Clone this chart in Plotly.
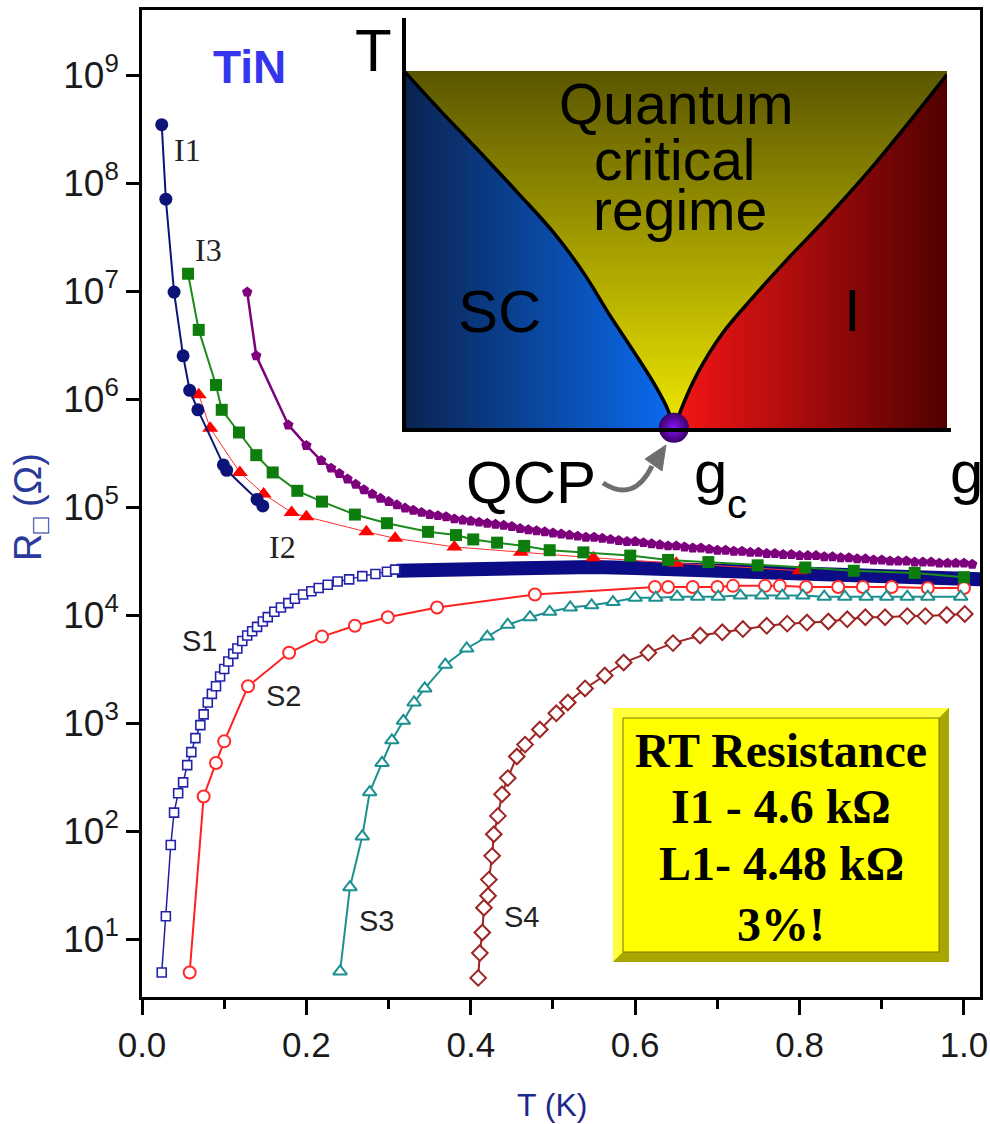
import numpy as np
import plotly.graph_objects as go

# ---------------- data: temperature T (K) and log10 of sheet resistance (Ohm) ----------------
I1_T = [0.024, 0.029, 0.039, 0.050, 0.058, 0.068, 0.099, 0.103, 0.140, 0.147]
I1_logR = [8.54, 7.85, 6.99, 6.40, 6.08, 5.90, 5.39, 5.34, 5.07, 5.01]

I3_T = [0.056, 0.069, 0.090, 0.097, 0.118, 0.139, 0.159, 0.189, 0.219, 0.259, 0.298, 0.348, 0.382,
        0.403, 0.432, 0.465, 0.496, 0.537, 0.594, 0.640, 0.689, 0.749, 0.807, 0.866, 0.940, 1.000]
I3_logR = [7.16, 6.64, 6.13, 5.90, 5.69, 5.48, 5.32, 5.15, 5.05, 4.93, 4.85, 4.77, 4.74,
           4.70, 4.67, 4.64, 4.60, 4.58, 4.55, 4.51, 4.49, 4.46, 4.44, 4.41, 4.39, 4.35]

I2_T = [0.069, 0.083, 0.119, 0.148, 0.182, 0.200, 0.273, 0.308, 0.380, 0.461, 0.549, 0.650, 0.800]
I2_logR = [6.04, 5.73, 5.32, 5.12, 4.95, 4.91, 4.77, 4.71, 4.63, 4.58, 4.53, 4.48, 4.41]

I4_T = [0.128, 0.139, 0.178, 0.200, 0.218,
        0.23, 0.24, 0.25, 0.26, 0.27, 0.28, 0.29, 0.30, 0.31, 0.32,
        0.33, 0.34, 0.35, 0.36, 0.37, 0.38, 0.39, 0.40, 0.41, 0.42,
        0.43, 0.44, 0.45, 0.46, 0.47, 0.48, 0.49, 0.50, 0.51, 0.52,
        0.53, 0.54, 0.55, 0.56, 0.57, 0.58, 0.59, 0.60, 0.61, 0.62,
        0.63, 0.64, 0.65, 0.66, 0.67, 0.68, 0.69, 0.70, 0.71, 0.72,
        0.73, 0.74, 0.75, 0.76, 0.77, 0.78, 0.79, 0.80, 0.81, 0.82,
        0.83, 0.84, 0.85, 0.86, 0.87, 0.88, 0.89, 0.90, 0.91, 0.92,
        0.93, 0.94, 0.95, 0.96, 0.97, 0.98, 0.99, 1.00, 1.01]
I4_logR = [6.99, 6.40, 5.76, 5.57, 5.43,
           5.36, 5.31, 5.26, 5.21, 5.16, 5.12, 5.08, 5.05, 5.02, 4.99,
           4.97, 4.95, 4.93, 4.92, 4.91, 4.89, 4.88, 4.87, 4.86, 4.85,
           4.84, 4.83, 4.82, 4.80, 4.79, 4.78, 4.77, 4.76, 4.75, 4.74,
           4.73, 4.72, 4.72, 4.71, 4.70, 4.69, 4.68, 4.68, 4.67, 4.66,
           4.65, 4.64, 4.64, 4.63, 4.62, 4.62, 4.61, 4.60, 4.60, 4.59,
           4.59, 4.58, 4.58, 4.57, 4.57, 4.56, 4.56, 4.55, 4.55, 4.55,
           4.54, 4.54, 4.53, 4.53, 4.52, 4.52, 4.51, 4.51, 4.50, 4.50,
           4.50, 4.49, 4.49, 4.49, 4.48, 4.48, 4.48, 4.48, 4.47]

S1_T = [0.024, 0.029, 0.035, 0.039, 0.044, 0.050, 0.055, 0.060, 0.065, 0.071, 0.075, 0.080, 0.085,
        0.090, 0.095, 0.100, 0.105, 0.111, 0.116, 0.122, 0.128, 0.134, 0.140, 0.147, 0.153, 0.161,
        0.169, 0.178, 0.186, 0.196, 0.206, 0.215, 0.226, 0.238, 0.252, 0.268, 0.284, 0.298, 0.308]
S1_logR = [0.69, 1.21, 1.87, 2.17, 2.35, 2.45, 2.61, 2.73, 2.86, 2.98, 3.08, 3.19, 3.27,
           3.34, 3.43, 3.50, 3.57, 3.64, 3.69, 3.76, 3.81, 3.85, 3.89, 3.94, 3.98, 4.03,
           4.07, 4.11, 4.15, 4.19, 4.22, 4.25, 4.28, 4.31, 4.33, 4.36, 4.38, 4.40, 4.42]
# densely sampled part of S1 (markers merge into a solid band)
S1_dense_T = [0.31, 0.35, 0.40, 0.45, 0.50, 0.55, 0.60, 0.65, 0.70, 0.75, 0.80, 0.85, 0.90, 0.95, 1.00, 1.02]
S1_dense_logR = [4.41, 4.42, 4.43, 4.44, 4.45, 4.445, 4.435, 4.42, 4.41, 4.395, 4.38, 4.37, 4.355, 4.345, 4.335, 4.33]

S2_T = [0.058, 0.075, 0.090, 0.100, 0.129, 0.179, 0.219, 0.259, 0.299, 0.359, 0.478, 0.624,
        0.640, 0.670, 0.700, 0.719, 0.758, 0.776, 0.808, 0.847, 0.877, 0.912, 0.956, 1.000]
S2_logR = [0.69, 2.32, 2.63, 2.83, 3.34, 3.65, 3.80, 3.90, 3.98, 4.07, 4.19, 4.26,
           4.26, 4.26, 4.26, 4.27, 4.27, 4.27, 4.26, 4.26, 4.26, 4.26, 4.25, 4.25]

S3_T = [0.241, 0.253, 0.268, 0.277, 0.292, 0.304, 0.318, 0.331, 0.344, 0.369, 0.395, 0.420, 0.445,
        0.472, 0.496, 0.521, 0.547, 0.573, 0.600, 0.625, 0.651, 0.676, 0.701, 0.728, 0.754, 0.779,
        0.804, 0.830, 0.855, 0.881, 0.906, 0.931, 0.956, 0.996]
S3_logR = [0.70, 1.48, 1.95, 2.36, 2.63, 2.84, 3.02, 3.19, 3.32, 3.54, 3.69, 3.80, 3.91,
           3.98, 4.03, 4.07, 4.09, 4.12, 4.16, 4.16, 4.17, 4.17, 4.17, 4.18, 4.18, 4.18,
           4.18, 4.17, 4.17, 4.17, 4.17, 4.17, 4.17, 4.17]

S4_T = [0.409, 0.411, 0.414, 0.416, 0.421, 0.422, 0.426, 0.428, 0.433, 0.438, 0.445, 0.456, 0.466,
        0.484, 0.504, 0.518, 0.539, 0.563, 0.586, 0.616, 0.646, 0.679, 0.706, 0.731, 0.760, 0.785,
        0.809, 0.835, 0.858, 0.880, 0.904, 0.931, 0.953, 0.979, 1.001]
S4_logR = [0.64, 0.87, 1.06, 1.29, 1.40, 1.55, 1.77, 1.97, 2.14, 2.34, 2.49, 2.69, 2.80,
           2.94, 3.09, 3.19, 3.32, 3.44, 3.56, 3.65, 3.74, 3.81, 3.84, 3.87, 3.90, 3.92,
           3.93, 3.94, 3.96, 3.98, 3.98, 3.99, 3.99, 4.00, 4.01]

y_tick_exp = [1, 2, 3, 4, 5, 6, 7, 8, 9]
y_tick_text = ["10<sup>%d</sup>" % e for e in y_tick_exp]

curve_labels = ["I1", "I3", "I2", "S1", "S2", "S3", "S4"]
box_lines = ["RT Resistance", "I1 - 4.6 kΩ", "L1- 4.48 kΩ", "3%!"]

# phase-diagram inset boundaries (normalised g, T)
left_bnd_u = [0.0, 0.066, 0.136, 0.210, 0.276, 0.331, 0.381, 0.425, 0.464, 0.486, 0.497]
left_bnd_v = [1.0, 0.891, 0.780, 0.660, 0.549, 0.437, 0.315, 0.214, 0.120, 0.056, 0.0]
right_bnd_u = [0.497, 0.510, 0.541, 0.587, 0.643, 0.705, 0.775, 0.853, 0.923, 1.0]
right_bnd_v = [0.0, 0.056, 0.159, 0.270, 0.370, 0.474, 0.585, 0.716, 0.844, 0.99]


def R(logs):
    return [10 ** v for v in logs]


# ---------------- geometry helpers (pixel -> paper) ----------------
W, H = 990, 1124
ML, MR, MT, MB = 142, 10, 10, 127
PW, PH = W - ML - MR, H - MT - MB


def px(x):
    return (x - ML) / PW


def py(y):
    return (H - MB - y) / PH


def P(x, y):
    return "%.5f,%.5f" % (px(x), py(y))


SANS = "Liberation Sans, Arial, sans-serif"
SERIF = "Liberation Serif, Times New Roman, serif"

fig = go.Figure()

# ---------------- main data traces ----------------
fig.add_trace(go.Scatter(x=S1_dense_T, y=R(S1_dense_logR), mode="lines",
                         line=dict(color="#0c0c86", width=14), hoverinfo="skip"))
fig.add_trace(go.Scatter(x=S1_T, y=R(S1_logR), mode="lines+markers",
                         line=dict(color="#1f1fa0", width=1.5),
                         marker=dict(symbol="square", size=9, color="white",
                                     line=dict(color="#2323aa", width=1.6))))
fig.add_trace(go.Scatter(x=S2_T, y=R(S2_logR), mode="lines+markers",
                         line=dict(color="#ff2020", width=2),
                         marker=dict(symbol="circle", size=12, color="white",
                                     line=dict(color="#ff2a2a", width=2))))
fig.add_trace(go.Scatter(x=S3_T, y=R(S3_logR), mode="lines+markers",
                         line=dict(color="#1c9090", width=2),
                         marker=dict(symbol="triangle-up", size=12, color="white",
                                     line=dict(color="#1c9090", width=2))))
fig.add_trace(go.Scatter(x=S4_T, y=R(S4_logR), mode="lines+markers",
                         line=dict(color="#9e2424", width=2),
                         marker=dict(symbol="diamond", size=12, color="white",
                                     line=dict(color="#9e2424", width=2))))
fig.add_trace(go.Scatter(x=I2_T, y=R(I2_logR), mode="lines+markers",
                         line=dict(color="#ff3030", width=1),
                         marker=dict(symbol="triangle-up", size=14, color="#ff0000")))
fig.add_trace(go.Scatter(x=I3_T, y=R(I3_logR), mode="lines+markers",
                         line=dict(color="#1b8b1b", width=2),
                         marker=dict(symbol="square", size=12, color="#0d7d0d")))
fig.add_trace(go.Scatter(x=I1_T, y=R(I1_logR), mode="lines+markers",
                         line=dict(color="#0c1478", width=2),
                         marker=dict(symbol="circle", size=13, color="#0c1478")))
fig.add_trace(go.Scatter(x=I4_T, y=R(I4_logR), mode="lines+markers",
                         line=dict(color="#7d007d", width=2.5),
                         marker=dict(symbol="pentagon", size=11, color="#7d007d")))

# ---------------- inset: phase diagram ----------------
Nu, Nv = 420, 280
u = (np.arange(Nu) + 0.5) / Nu
v = (np.arange(Nv) + 0.5) / Nv
lb_v = np.array(left_bnd_v[::-1]); lb_u = np.array(left_bnd_u[::-1])
rb_v = np.array(right_bnd_v); rb_u = np.array(right_bnd_u)
uL = np.interp(v, lb_v, lb_u)
uR = np.interp(v, rb_v, rb_u)
UU, VV = np.meshgrid(u, v)
z = np.where(UU < uL[:, None], np.clip(UU / 0.5, 0, 1) * 0.333,
             np.where(UU > uR[:, None], 0.6667 + np.clip((UU - 0.5) / 0.5, 0, 1) * 0.333,
                      0.33345 + (1 - VV) * 0.333))
cscale = [[0.0, "#0a2350"], [0.3333, "#0a6cf2"], [0.33335, "#5a5600"], [0.6666, "#f0e800"],
          [0.66665, "#f41616"], [1.0, "#500000"]]
fig.add_trace(go.Heatmap(x=u, y=v, z=z, colorscale=cscale, zmin=0, zmax=1, showscale=False,
                         hoverinfo="skip", xaxis="x2", yaxis="y2"))
fig.add_trace(go.Scatter(x=left_bnd_u, y=left_bnd_v, mode="lines", line=dict(color="black", width=3.5, shape="spline"),
                         xaxis="x2", yaxis="y2", hoverinfo="skip", cliponaxis=False))
fig.add_trace(go.Scatter(x=right_bnd_u, y=right_bnd_v, mode="lines", line=dict(color="black", width=3.5, shape="spline"),
                         xaxis="x2", yaxis="y2", hoverinfo="skip", cliponaxis=False))
fig.add_trace(go.Scatter(x=[0.497], y=[0.006], mode="markers",
                         marker=dict(size=30, color="#3a0064", gradient=dict(type="radial", color="#8a14ff"),
                                     line=dict(width=0)),
                         xaxis="x2", yaxis="y2", hoverinfo="skip", cliponaxis=False))

shapes = []
# inset axes
shapes.append(dict(type="line", xref="paper", yref="paper", x0=px(404), y0=py(18), x1=px(404), y1=py(432),
                   line=dict(color="black", width=4)))
shapes.append(dict(type="line", xref="paper", yref="paper", x0=px(402), y0=py(430), x1=px(951), y1=py(430),
                   line=dict(color="black", width=4)))
# curved arrow QCP -> point
shapes.append(dict(type="path", xref="paper", yref="paper",
                   path="M %s Q %s %s" % (P(603, 483), P(634, 503), P(652, 466)),
                   line=dict(color="#6e6e6e", width=5)))
shapes.append(dict(type="path", xref="paper", yref="paper",
                   path="M %s L %s L %s Z" % (P(666, 445), P(645, 459), P(662, 471)),
                   fillcolor="#6e6e6e", line=dict(color="#6e6e6e", width=1)))
# yellow bevelled box
shapes.append(dict(type="rect", xref="paper", yref="paper", x0=px(613), y0=py(962), x1=px(949), y1=py(708),
                   fillcolor="#e2e200", line=dict(width=0)))
shapes.append(dict(type="path", xref="paper", yref="paper",
                   path="M %s L %s L %s L %s L %s L %s Z" % (P(613, 708), P(949, 708), P(939, 718), P(623, 718),
                                                             P(623, 952), P(613, 962)),
                   fillcolor="#ffff3a", line=dict(width=0)))
shapes.append(dict(type="path", xref="paper", yref="paper",
                   path="M %s L %s L %s L %s L %s L %s Z" % (P(949, 708), P(949, 962), P(613, 962), P(623, 952),
                                                             P(939, 952), P(939, 718)),
                   fillcolor="#a8a600", line=dict(width=0)))
shapes.append(dict(type="rect", xref="paper", yref="paper", x0=px(623), y0=py(952), x1=px(939), y1=py(718),
                   fillcolor="#ffff00", line=dict(color="#7a7800", width=1)))

annotations = []


def txt(s, x, y, size, color="black", family=SANS, bold=False, angle=0):
    annotations.append(dict(text=("<b>%s</b>" % s) if bold else s, x=px(x), y=py(y), xref="paper", yref="paper",
                            xanchor="center", yanchor="middle", showarrow=False, textangle=angle,
                            font=dict(size=size, color=color, family=family)))


# inset texts
txt("T", 373, 50, 60)
txt("Quantum", 676, 104, 57)
txt("critical", 675, 160, 57)
txt("regime", 680, 210, 57)
txt("SC", 499, 312, 60)
txt("I", 852, 310, 60)
txt("QCP", 531, 483, 60)
txt("g", 710, 473, 60)
txt("c", 737, 504, 40)
txt("g", 966, 472, 60)

# main-plot texts
txt("TiN", 249, 67, 46, color="#3535ee", bold=True)
label_pos = [(187, 150), (208, 250), (282, 547), (199, 641), (283, 696), (376, 921), (521, 917)]
for lab, (lx, ly) in zip(curve_labels, label_pos):
    fam = SERIF if lab.startswith("I") else SANS
    txt(lab, lx, ly, 32 if lab.startswith("I") else 29, color="#222222", family=fam)

for s, yy in zip(box_lines, [750, 806, 863, 924]):
    txt(s, 781, yy, 48, family=SERIF, bold=True)

txt("T (K)", 552, 1105, 32, color="#1c2a8c")
txt("R<sub>□</sub> (Ω)", 31, 507, 38, color="#2a3a9a", angle=-90)

fig.update_layout(
    width=W, height=H, margin=dict(l=ML, r=MR, t=MT, b=MB),
    paper_bgcolor="white", plot_bgcolor="white", showlegend=False,
    shapes=shapes, annotations=annotations,
    xaxis=dict(range=[0, 1.0195], dtick=0.2, tick0=0, tickformat=".1f", ticks="outside", ticklen=15,
               tickwidth=2.5, tickcolor="black", showline=True, linecolor="black", linewidth=2.5, mirror=True,
               showgrid=False, zeroline=False, automargin=False,
               tickfont=dict(size=35, color="#1a1a1a", family=SANS),
               minor=dict(dtick=0.1, tick0=0, ticks="outside", ticklen=9, tickwidth=2.5, tickcolor="black")),
    yaxis=dict(type="log", range=[0.463, 9.602], tickvals=[10 ** e for e in y_tick_exp], ticktext=y_tick_text,
               ticks="outside", ticklen=13, tickwidth=2.5, tickcolor="black", showline=True, linecolor="black",
               linewidth=2.5, mirror=True, showgrid=False, zeroline=False, automargin=False,
               tickfont=dict(size=37, color="#1a1a1a", family=SANS)),
    xaxis2=dict(domain=[px(404), px(947)], range=[0, 1], visible=False, anchor="y2", fixedrange=True),
    yaxis2=dict(domain=[py(430), py(71)], range=[0, 1], visible=False, anchor="x2", fixedrange=True),
)

fig.write_html("out.html")
